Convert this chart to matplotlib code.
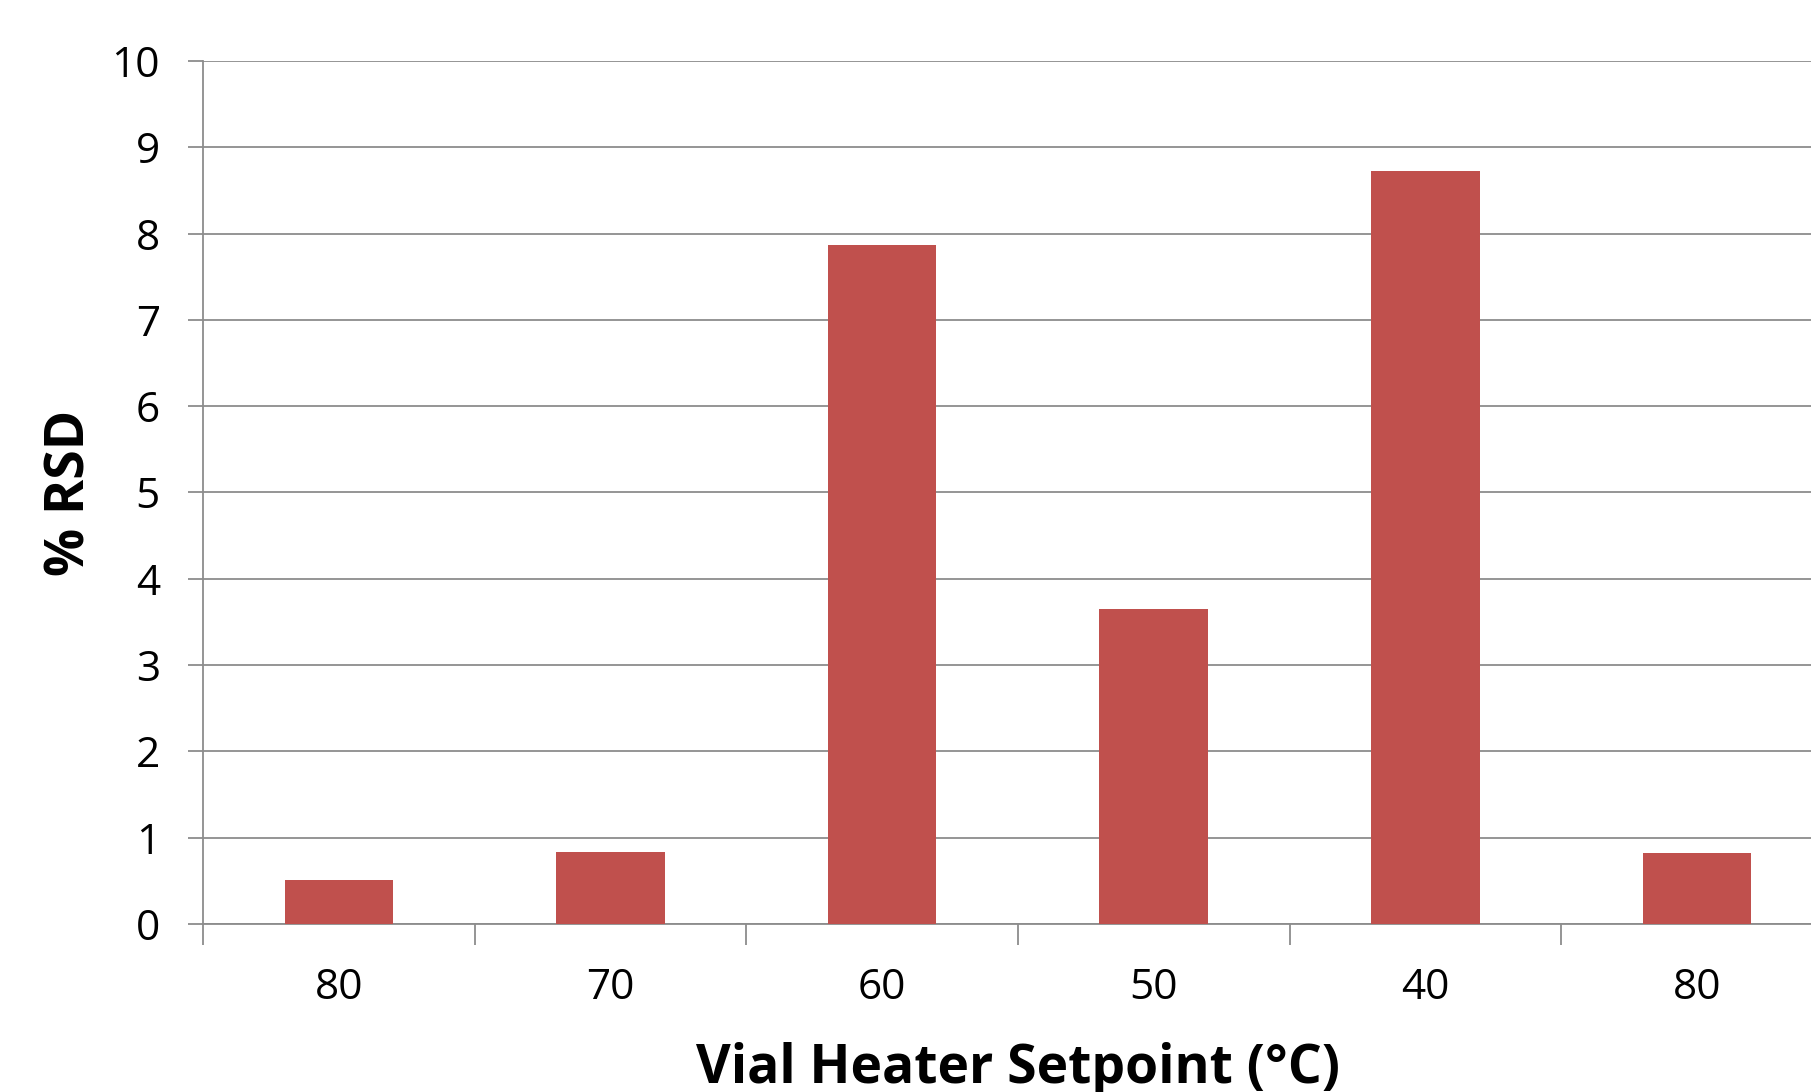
import numpy as np
import matplotlib
matplotlib.use("Agg")
import matplotlib.pyplot as plt

# donnees
setpoints = ["80", "70", "60", "50", "40", "80"]
rsd = [0.51, 0.83, 7.87, 3.65, 8.73, 0.82]

bar_color = "#C0504D"
grid_color = "#8C8C8C"

plt.rcParams['font.family'] = ['Open Sans', 'DejaVu Sans']

fig = plt.figure(figsize=(18.11, 10.92), dpi=100)
# l'axe depasse a droite (image rognee comme l'original)
ax = fig.add_axes([0.1121, 0.1538, 0.900, 0.7904])

x = np.arange(len(setpoints))
ax.bar(x, rsd, width=0.4, color=bar_color, zorder=3)

ax.set_xlim(-0.5, len(setpoints) - 0.5)
ax.set_ylim(0, 10)
ax.set_yticks(np.arange(0, 11, 1))
ax.yaxis.grid(True, color=grid_color, linewidth=1.3, zorder=0)
ax.set_axisbelow(True)

ax.set_xticks(x)
ax.set_xticklabels(setpoints)
ax.set_xticks(np.arange(-0.5, len(setpoints), 1), minor=True)
ax.tick_params(axis='x', which='major', length=0, pad=31, labelsize=30.5)
ax.tick_params(axis='x', which='minor', length=15, width=1.3, color=grid_color)
ax.tick_params(axis='y', length=11, width=1.3, color=grid_color, labelsize=30.5, pad=20)

for s in ['top', 'right']:
    ax.spines[s].set_visible(False)
for s in ['left', 'bottom']:
    ax.spines[s].set_color(grid_color)
    ax.spines[s].set_linewidth(1.3)

ax.set_xlabel("Vial Heater Setpoint (°C)", fontsize=38.5, fontweight='bold', va='center')
ax.xaxis.set_label_coords(0.5, -0.168)
ax.set_ylabel("% RSD", fontsize=38.5, fontweight='bold', va='center')
ax.yaxis.set_label_coords(-0.081, 0.5)

fig.savefig("out.png", dpi=100)
